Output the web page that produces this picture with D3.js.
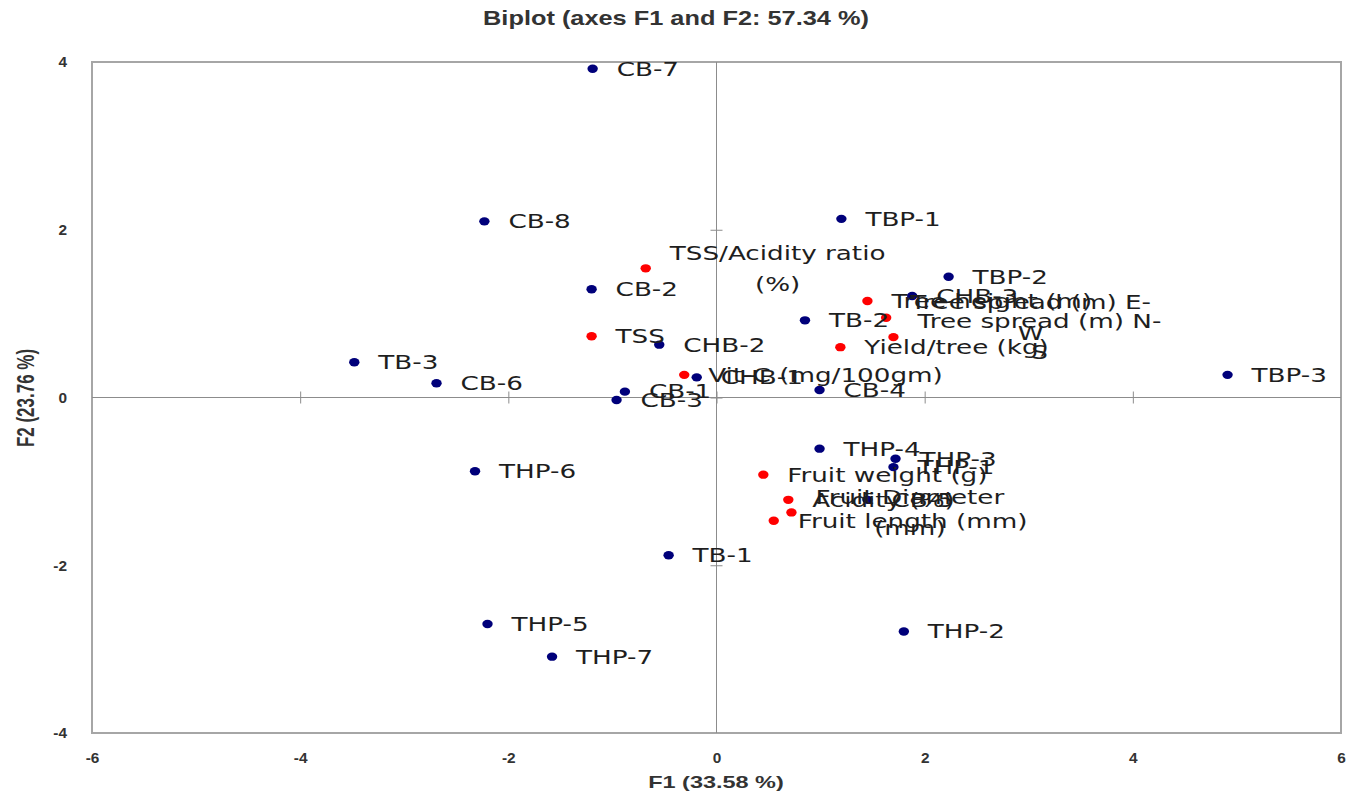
<!DOCTYPE html>
<html>
<head>
<meta charset="utf-8">
<script src="https://cdn.jsdelivr.net/npm/d3@7"></script>
<style>
  body { margin: 0; background: #fff; }
  svg { display: block; }
</style>
</head>
<body>
<div id="chart"></div>
<script>
// observations (blue)
const obsNames = ['CB-1', 'CB-2', 'CB-3', 'CB-4', 'CB-5', 'CB-6', 'CB-7', 'CB-8',
  'CHB-1', 'CHB-2', 'CHB-3', 'TB-1', 'TB-2', 'TB-3', 'TBP-1', 'TBP-2', 'TBP-3',
  'THP-1', 'THP-2', 'THP-3', 'THP-4', 'THP-5', 'THP-6', 'THP-7'];
const obsF1 = [-0.88, -1.20, -0.96, 0.99, 1.45, -2.69, -1.19, -2.23,
  -0.19, -0.55, 1.88, -0.46, 0.85, -3.48, 1.20, 2.23, 4.91,
  1.70, 1.80, 1.72, 0.99, -2.20, -2.32, -1.58];
const obsF2 = [0.07, 1.29, -0.03, 0.09, -1.22, 0.17, 3.92, 2.10,
  0.24, 0.63, 1.21, -1.88, 0.92, 0.42, 2.13, 1.44, 0.27,
  -0.83, -2.79, -0.73, -0.61, -2.70, -0.88, -3.09];

// variables (red)
const varNames = ['Fruit weight (g)', 'Fruit length (mm)', 'Fruit Diameter (mm)', 'Acidity (%)',
  'TSS', 'TSS/Acidity ratio (%)', 'Vit-C (mg/100gm)', 'Tree height (m)',
  'Tree spread (m) E-W', 'Tree spread (m) N-S', 'Yield/tree (kg)'];
const varF1 = [0.45, 0.55, 0.72, 0.69, -1.20, -0.68, -0.31, 1.45, 1.63, 1.70, 1.19];
const varF2 = [-0.92, -1.47, -1.37, -1.22, 0.73, 1.54, 0.27, 1.15, 0.95, 0.72, 0.60];

const xTicks = [-6, -4, -2, 0, 2, 4, 6];
const yTicks = [-4, -2, 0, 2, 4];

const width = 1359, height = 796;
const stretch = 1.38; // text in the picture is wider than tall
const plotL = 92, plotR = 1341, plotT = 62, plotB = 733;

const x = d3.scaleLinear().domain([-6, 6]).range([plotL, plotR]);
const y = d3.scaleLinear().domain([-4, 4]).range([plotB, plotT]);

const svg = d3.select('#chart').append('svg')
  .attr('width', width)
  .attr('height', height);

// plot box
svg.append('rect')
  .attr('x', plotL).attr('y', plotT)
  .attr('width', plotR - plotL).attr('height', plotB - plotT)
  .attr('fill', 'none')
  .attr('stroke', '#a6a6a6')
  .attr('stroke-width', 2);

// axes through zero, ticks crossing the line
const xZero = svg.append('g')
  .attr('transform', 'translate(0,' + y(0) + ')')
  .call(d3.axisBottom(x).tickValues(xTicks.filter(d => d > -6 && d < 6)).tickFormat(''));
xZero.selectAll('.tick line').attr('y1', -6).attr('y2', 6).attr('stroke', '#8c8c8c');
xZero.select('.domain').attr('stroke', '#8c8c8c').attr('d', 'M' + plotL + ',0H' + plotR);

const yZero = svg.append('g')
  .attr('transform', 'translate(' + x(0) + ',0)')
  .call(d3.axisLeft(y).tickValues(yTicks.filter(d => d > -4 && d < 4)).tickFormat(''));
yZero.selectAll('.tick line').attr('x1', -6).attr('x2', 6).attr('stroke', '#8c8c8c');
yZero.select('.domain').attr('stroke', '#8c8c8c').attr('d', 'M0,' + plotT + 'V' + plotB);

// tick labels
const tickFamily = 'Liberation Sans, Arial, sans-serif';
const xLab = svg.append('g')
  .attr('transform', 'translate(0,' + (plotB + 25) + ')')
  .call(d3.axisBottom(x).tickValues(xTicks).tickSize(0).tickPadding(0).tickFormat(d => String(d)));
xLab.select('.domain').remove();
xLab.selectAll('.tick text')
  .attr('y', 0).attr('dy', '0.35em')
  .attr('transform', 'scale(1.1,1)')
  .attr('font-family', tickFamily).attr('font-size', 14)
  .attr('font-weight', 'bold').attr('fill', '#333');

const yLab = svg.append('g')
  .attr('transform', 'translate(67,0)')
  .call(d3.axisLeft(y).tickValues(yTicks).tickSize(0).tickPadding(0).tickFormat(d => String(d)));
yLab.select('.domain').remove();
yLab.selectAll('.tick text')
  .attr('x', 0).attr('dy', '0.35em')
  .attr('transform', 'scale(1.1,1)')
  .attr('font-family', tickFamily).attr('font-size', 14)
  .attr('font-weight', 'bold').attr('fill', '#333');

// titles
svg.append('text')
  .attr('transform', 'translate(676,25) scale(1.3,1)')
  .attr('text-anchor', 'middle')
  .attr('font-family', tickFamily)
  .attr('font-size', 19.5).attr('font-weight', 'bold').attr('fill', '#333')
  .text('Biplot (axes F1 and F2: 57.34 %)');

svg.append('text')
  .attr('transform', 'translate(716,788) scale(' + stretch + ',1)')
  .attr('text-anchor', 'middle')
  .attr('font-family', tickFamily)
  .attr('font-size', 17).attr('font-weight', 'bold').attr('fill', '#333')
  .text('F1 (33.58 %)');

svg.append('text')
  .attr('transform', 'translate(34,398) scale(' + stretch + ',1) rotate(-90)')
  .attr('text-anchor', 'middle')
  .attr('font-family', tickFamily)
  .attr('font-size', 17).attr('font-weight', 'bold').attr('fill', '#333')
  .text('F2 (23.76 %)');

// point data
const obs = obsNames.map((n, i) => ({ name: n, f1: obsF1[i], f2: obsF2[i], color: '#00007a' }));
const vars = varNames.map((n, i) => ({ name: n, f1: varF1[i], f2: varF2[i], color: '#ff0000' }));
const points = vars.concat(obs);

const labelFont = 'DejaVu Sans, Verdana, sans-serif';
const labelSize = 19;
const maxLine = 186; // unscaled wrap width
const lineGap = 31; // px between wrapped lines

// measure helper for wrapping labels
const measure = svg.append('text')
  .attr('font-family', labelFont).attr('font-size', labelSize)
  .attr('visibility', 'hidden');
function textWidth(s) {
  measure.text(s);
  return measure.node().getComputedTextLength();
}
function wrap(s) {
  const words = s.split(/(?<=[ -])/);
  const lines = [];
  let cur = '';
  words.forEach(w => {
    if (cur && textWidth((cur + w).trim()) > maxLine) {
      lines.push(cur.trim());
      cur = w;
    } else {
      cur += w;
    }
  });
  if (cur) lines.push(cur.trim());
  return lines;
}

// dots
svg.selectAll('ellipse.pt')
  .data(points)
  .enter()
  .append('ellipse')
  .attr('class', 'pt')
  .attr('cx', d => x(d.f1))
  .attr('cy', d => y(d.f2))
  .attr('rx', 5.2)
  .attr('ry', 4.2)
  .attr('fill', d => d.color);

// labels
const labels = svg.selectAll('g.lbl')
  .data(points)
  .enter()
  .append('g')
  .attr('class', 'lbl')
  .attr('transform', d => 'translate(' + (x(d.f1) + 24) + ',' + y(d.f2) + ') scale(' + stretch + ',1)');

labels.each(function (d) {
  const lines = wrap(d.name);
  const w = d3.max(lines, l => textWidth(l));
  const t = d3.select(this).append('text')
    .attr('font-family', labelFont)
    .attr('font-size', labelSize)
    .attr('fill', '#1e1e1e')
    .attr('text-anchor', lines.length > 1 ? 'middle' : 'start');
  lines.forEach((l, i) => {
    t.append('tspan')
      .attr('x', lines.length > 1 ? w / 2 : 0)
      .attr('y', (i - (lines.length - 1) / 2) * lineGap)
      .attr('dy', '0.36em')
      .text(l);
  });
});
measure.remove();
</script>
</body>
</html>
